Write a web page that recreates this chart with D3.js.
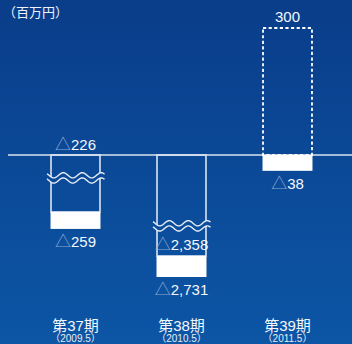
<!DOCTYPE html>
<html>
<head>
<meta charset="utf-8">
<script src="https://cdn.jsdelivr.net/npm/d3@7"></script>
<style>
  html, body { margin: 0; padding: 0; background: #0b4794; }
  svg { display: block; }
  text { font-family: "Liberation Sans", Arial, "Noto Sans CJK JP", sans-serif; }
</style>
</head>
<body>
<div id="container"></div>
<script>
const periods = ["第37期", "第38期", "第39期"];
const periodDates = ["（2009.5）", "（2010.5）", "（2011.5）"];
const outlineValues = [-226, -2358, 300];   // outlined bar
const solidValues = [-259, -2731, -38];     // white block
const forecast = [false, false, true];      // dashed = plan
const breakValues = [-55, -253, null];      // where the wavy cut sits (data units)
const unitLabel = "（百万円）";

const width = 352, height = 344;
const lineColor = "#dbe4f1";

const svg = d3.select("#container")
  .append("svg")
  .attr("width", width)
  .attr("height", height);

// background gradient
const defs = svg.append("defs");
const grad = defs.append("linearGradient")
  .attr("id", "bg")
  .attr("gradientUnits", "userSpaceOnUse")
  .attr("x1", 0).attr("y1", 0).attr("x2", 0).attr("y2", height);
grad.append("stop").attr("offset", "0%").attr("stop-color", "#0a3d8a");
grad.append("stop").attr("offset", "100%").attr("stop-color", "#0c56a5");

svg.append("rect")
  .attr("width", width)
  .attr("height", height)
  .attr("fill", "url(#bg)");

// x: one band per period
const x = d3.scaleBand()
  .domain(periods)
  .range([22.5, 340.5])
  .paddingInner(0.538)
  .paddingOuter(0.269);

// y: broken axis, linear pieces (the big losses are squeezed)
const y = d3.scaleLinear()
  .domain([300, 0, -60, -200, -300, -2300, -2800])
  .range([28, 155, 180, 198.6, 250, 252.7, 280.9]);

const fmt = d3.format(",");

// unit
svg.append("text")
  .attr("x", 3)
  .attr("y", 17)
  .attr("fill", "#eef3fa")
  .style("font-size", "13px")
  .text(unitLabel);

// zero line
svg.append("line")
  .attr("x1", 8)
  .attr("x2", width)
  .attr("y1", y(0))
  .attr("y2", y(0))
  .attr("stroke", lineColor)
  .attr("stroke-width", 1.5);

const data = periods.map((p, i) => ({
  period: p,
  date: periodDates[i],
  outline: outlineValues[i],
  solid: solidValues[i],
  forecast: forecast[i],
  cut: breakValues[i]
}));

const bw = x.bandwidth();

data.forEach(d => {
  const x0 = x(d.period);
  const g = svg.append("g");

  // outlined bar
  const top = Math.min(y(0), y(d.outline));
  const h = Math.abs(y(d.outline) - y(0));
  g.append("rect")
    .attr("x", x0)
    .attr("y", top)
    .attr("width", bw)
    .attr("height", h)
    .attr("fill", "none")
    .attr("stroke", d.forecast ? "#ffffff" : lineColor)
    .attr("stroke-width", d.forecast ? 1.8 : 1.6)
    .attr("stroke-dasharray", d.forecast ? "3.2,2.4" : null);

  // white block
  const start = d.outline < 0 ? d.outline : 0;
  g.append("rect")
    .attr("x", x0 - 0.5)
    .attr("y", y(start))
    .attr("width", bw + 1)
    .attr("height", y(d.solid) - y(start))
    .attr("fill", "#ffffff");

  // wavy break
  if (d.cut !== null) {
    const yc = y(d.cut);
    const pts = d3.range(x0 - 4, x0 + bw + 5, 0.5);
    const wave = px => 2.6 * Math.sin((px - x0 + 2) / 19 * 2 * Math.PI);
    g.append("path")
      .datum(pts)
      .attr("fill", "url(#bg)")
      .attr("d", d3.area()
        .x(px => px)
        .y0(px => yc - 2.6 + wave(px))
        .y1(px => yc + 2.6 + wave(px)));
    [-2.6, 2.6].forEach(off => {
      g.append("path")
        .datum(pts)
        .attr("fill", "none")
        .attr("stroke", "#e8eef7")
        .attr("stroke-width", 1.4)
        .attr("d", d3.line().x(px => px).y(px => yc + off + wave(px)));
    });
  }

  const cx = x0 + bw / 2;
  const addValue = (v, yy) => {
    const t = g.append("text")
      .attr("x", cx)
      .attr("y", yy)
      .attr("text-anchor", "middle")
      .style("font-size", "15px")
      .attr("fill", "#f4f7fc");
    if (v < 0) {
      t.append("tspan").attr("fill", "#8ea9d3").style("font-size", "16px").text("△");
    }
    t.append("tspan").text(fmt(Math.abs(v)));
  };

  // outline value: above the bar (positive), at the cut end, or above zero
  let oy;
  if (d.outline > 0) oy = y(d.outline) - 6;
  else if (d.period === "第37期") oy = y(0) - 5;
  else oy = y(d.outline) - 6;
  addValue(d.outline, oy);

  // solid value under the white block
  addValue(d.solid, y(d.solid) + 18);

  // category
  g.append("text")
    .attr("x", cx)
    .attr("y", 330.5)
    .attr("text-anchor", "middle")
    .attr("fill", "#f4f7fc")
    .style("font-size", "15px")
    .text(d.period);

  g.append("text")
    .attr("x", cx)
    .attr("y", 341.5)
    .attr("text-anchor", "middle")
    .attr("fill", "#e6ecf6")
    .style("font-size", "10px")
    .text(d.date);
});
</script>
</body>
</html>
